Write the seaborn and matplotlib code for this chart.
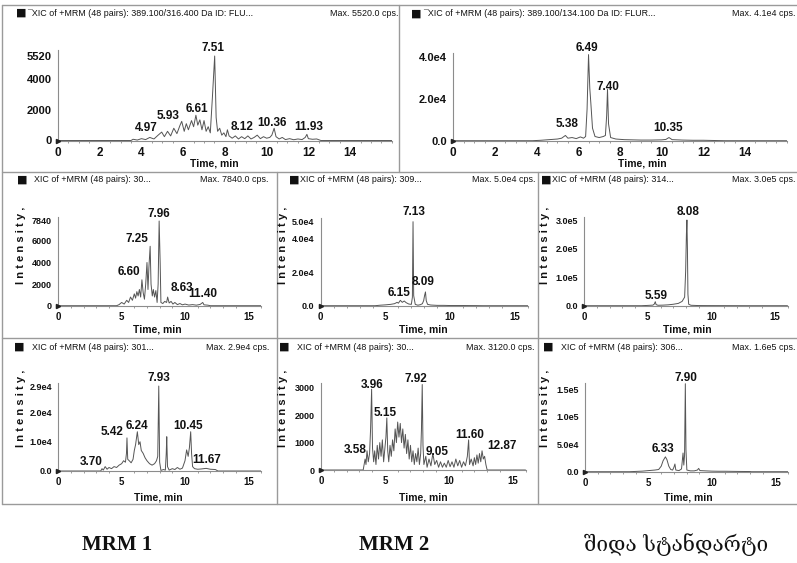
import matplotlib
matplotlib.use("Agg")
import matplotlib.pyplot as plt
from matplotlib.lines import Line2D
import pandas as pd
import seaborn as sns

# ---------------- data ----------------
# panel A : MRM1 top (389.100/316.400)
a_time = [0, 3.5, 3.6, 3.8, 4.0, 4.2, 4.4, 4.6, 4.8, 4.97, 5.1, 5.25, 5.4, 5.55, 5.7, 5.85, 5.93,
          6.05, 6.15, 6.25, 6.4, 6.5, 6.61, 6.7, 6.8, 6.9, 7.0, 7.1, 7.2, 7.3, 7.4, 7.51, 7.58,
          7.65, 7.75, 7.85, 7.95, 8.05, 8.12, 8.2, 8.35, 8.5, 8.65, 8.8, 8.95, 9.1, 9.25, 9.4,
          9.55, 9.7, 9.85, 10.0, 10.15, 10.25, 10.36, 10.45, 10.6, 10.75, 10.9, 11.1, 11.3,
          11.5, 11.7, 11.85, 11.93, 12.0, 12.2, 12.4, 12.6, 16]
a_int = [0, 0, 80, 30, 120, 60, 200, 100, 350, 550, 250, 600, 300, 800, 450, 1000, 1250,
         600, 1100, 700, 1300, 900, 1650, 1000, 1350, 700, 1300, 600, 900, 500, 2800, 5520, 1500,
         600, 800, 350, 500, 250, 700, 300, 150, 300, 100, 250, 120, 300, 100, 200,
         350, 120, 250, 150, 200, 350, 800, 250, 100, 200, 60, 120, 50,
         100, 60, 200, 400, 120, 80, 100, 0, 0]
a_peaks = ["7.51", "4.97", "5.93", "6.61", "8.12", "10.36", "11.93"]
a_yticks = [0, 2000, 4000, 5520]
a_yticklabels = ["0", "2000", "4000", "5520"]

# panel B : MRM2 top (389.100/134.100)
b_time = [0, 3.8, 4.2, 4.6, 5.0, 5.2, 5.38, 5.5, 5.7, 5.9, 6.1, 6.25, 6.35, 6.42, 6.49, 6.55,
          6.6, 6.68, 6.8, 7.0, 7.2, 7.3, 7.36, 7.40, 7.45, 7.55, 7.8, 8.2, 8.6, 9.0, 9.5, 10.0,
          10.2, 10.35, 10.5, 11.0, 11.5, 12.0, 12.5, 13, 16]
b_int = [0, 0, 200, 500, 800, 1200, 2500, 1200, 1500, 1000, 1800, 1200, 2000, 15000, 41000, 25000,
         18000, 6000, 2000, 1500, 2000, 2500, 12000, 24500, 8000, 1500, 800, 500, 400, 300, 300, 400,
         600, 1500, 500, 300, 200, 200, 100, 0, 0]
b_peaks = ["6.49", "7.40", "5.38", "10.35"]
b_yticks = [0, 20000, 40000]
b_yticklabels = ["0.0", "2.0e4", "4.0e4"]

# panel C : MRM1 sample 2
c_time = [0, 4.6, 4.8, 5.0, 5.2, 5.4, 5.55, 5.7, 5.85, 6.0, 6.1, 6.2, 6.3, 6.4, 6.5, 6.6, 6.7,
          6.8, 6.9, 7.0, 7.08, 7.15, 7.25, 7.32, 7.42, 7.5, 7.6, 7.7, 7.8, 7.88, 7.96, 8.04, 8.1,
          8.25, 8.4, 8.55, 8.63, 8.75, 8.9, 9.05, 9.2, 9.4, 9.6, 9.8, 10.0, 10.3, 10.6, 10.9,
          11.2, 11.4, 11.5, 11.8, 12.0, 16]
c_int = [0, 0, 100, 300, 150, 500, 300, 800, 500, 1100, 700, 1300, 900, 1500, 800, 2400, 1200,
         600, 2000, 4000, 1500, 3500, 5500, 2000, 900, 1500, 800, 1400, 300, 2000, 7840, 4000, 300,
         200, 400, 300, 800, 250, 400, 150, 300, 100, 200, 80, 150, 60, 100, 50,
         120, 300, 80, 50, 0, 0]
c_peaks = ["7.96", "7.25", "6.60", "8.63", "11.40"]
c_yticks = [0, 2000, 4000, 6000, 7840]
c_yticklabels = ["0", "2000", "4000", "6000", "7840"]

# panel D : MRM2 sample 2
d_time = [0, 4.2, 4.6, 5.0, 5.4, 5.7, 5.9, 6.0, 6.15, 6.3, 6.45, 6.6, 6.8, 7.0, 7.08, 7.13,
          7.18, 7.3, 7.5, 7.7, 7.85, 7.95, 8.02, 8.09, 8.15, 8.25, 8.5, 9.0, 9.5, 10, 11, 12,
          12.5, 16]
d_int = [0, 0, 300, 500, 800, 1200, 2000, 1500, 3200, 2000, 2800, 1800, 1000, 800, 5000, 50000,
         6000, 800, 300, 600, 1200, 3000, 6000, 8200, 3000, 800, 400, 200, 200, 100, 100, 50,
         0, 0]
d_peaks = ["7.13", "6.15", "8.09"]
d_yticks = [0, 20000, 40000, 50000]
d_yticklabels = ["0.0", "2.0e4", "4.0e4", "5.0e4"]

# panel E : internal standard sample 2
e_time = [0, 4.5, 5.0, 5.4, 5.5, 5.59, 5.65, 5.8, 6.2, 6.6, 7.0, 7.4, 7.7, 7.9, 7.98, 8.04,
          8.08, 8.12, 8.16, 8.22, 8.4, 9, 10, 11, 12, 13, 16]
e_int = [0, 0, 1000, 2000, 5000, 14000, 4000, 1500, 2000, 3000, 5000, 8000, 15000, 30000, 120000,
         250000, 300000, 200000, 40000, 5000, 1500, 500, 300, 200, 100, 0, 0]
e_peaks = ["8.08", "5.59"]
e_yticks = [0, 100000, 200000, 300000]
e_yticklabels = ["0.0", "1.0e5", "2.0e5", "3.0e5"]

# panel F : MRM1 sample 3
f_time = [0, 3.35, 3.45, 3.55, 3.7, 3.85, 4.0, 4.2, 4.4, 4.6, 4.8, 5.0, 5.15, 5.3, 5.38, 5.42,
          5.48, 5.6, 5.75, 5.9, 6.0, 6.1, 6.24, 6.35, 6.45, 6.55, 6.7, 6.85, 7.0, 7.2, 7.4, 7.6,
          7.75, 7.85, 7.93, 8.0, 8.1, 8.3, 8.45, 8.52, 8.56, 8.62, 8.75, 9.0, 9.2, 9.4, 9.6,
          9.8, 10.0, 10.13, 10.25, 10.35, 10.45, 10.52, 10.6, 10.75, 11.0, 11.3, 11.67, 12.0,
          12.4, 12.6, 16]
f_int = [0, 0, 800, 300, 1500, 600, 1200, 800, 1500, 1200, 2000, 2500, 3500, 3000, 6000, 11300,
         4000, 3500, 2800, 4000, 7000, 9000, 13400, 9000, 10000, 7000, 6000, 4500, 3500, 2500, 2000, 2500,
         3500, 5000, 29000, 3000, 200, 500, 300, 6000, 11700, 1500, 300, 800, 500, 1200, 600,
         1000, 3500, 7200, 5000, 8000, 13400, 6000, 1500, 800, 600, 700, 900, 600,
         500, 0, 0]
f_peaks = ["7.93", "5.42", "6.24", "10.45", "3.70", "11.67"]
f_yticks = [0, 10000, 20000, 29000]
f_yticklabels = ["0.0", "1.0e4", "2.0e4", "2.9e4"]

# panel G : MRM2 sample 3
g_time = [0, 3.3, 3.45, 3.52, 3.6, 3.7, 3.8, 3.88, 3.96, 4.03, 4.12, 4.2, 4.3, 4.4, 4.5, 4.6,
          4.7, 4.8, 4.9, 5.0, 5.08, 5.15, 5.22, 5.3, 5.4, 5.5, 5.6, 5.7, 5.8, 5.9, 6.0, 6.1,
          6.2, 6.3, 6.4, 6.5, 6.6, 6.7, 6.8, 6.9, 7.0, 7.1, 7.2, 7.3, 7.4, 7.5, 7.6, 7.7, 7.8,
          7.86, 7.92, 7.98, 8.05, 8.2, 8.3, 8.45, 8.6, 8.75, 8.9, 9.05, 9.2, 9.35, 9.5, 9.65,
          9.8, 9.95, 10.1, 10.25, 10.4, 10.55, 10.7, 10.85, 11.0, 11.15, 11.3, 11.45, 11.55,
          11.62, 11.75, 11.9, 12.0, 12.1, 12.2, 12.3, 12.4, 12.5, 12.6, 12.7, 12.8, 12.9, 13.0, 16]
g_int = [0, 0, 400, 200, 700, 300, 600, 1500, 2950, 800, 300, 700, 200, 900, 400, 1000,
         500, 1100, 300, 800, 1200, 1900, 700, 300, 900, 500, 1100, 700, 1500, 1000, 1750, 1200,
         1700, 1000, 1500, 800, 1300, 600, 1100, 400, 900, 300, 700, 200, 600, 300, 800, 200, 600,
         1500, 3120, 900, 200, 500, 100, 400, 150, 600, 200, 350, 100, 300, 100, 250,
         100, 350, 120, 300, 100, 400, 150, 350, 100, 300, 150, 500, 1100,
         200, 400, 150, 450, 200, 550, 250, 600, 300, 700, 400, 500, 200, 0, 0]
g_peaks = ["3.96", "7.92", "5.15", "3.58", "9.05", "11.60", "12.87"]
g_yticks = [0, 1000, 2000, 3000]
g_yticklabels = ["0", "1000", "2000", "3000"]

# panel H : internal standard sample 3
h_time = [0, 3.5, 4.0, 4.5, 5.0, 5.5, 5.8, 6.0, 6.15, 6.33, 6.45, 6.6, 6.75, 6.9, 7.0, 7.08,
          7.15, 7.4, 7.6, 7.72, 7.78, 7.84, 7.90, 7.95, 8.02, 8.3, 8.6, 8.85, 8.95, 9.05, 9.5,
          10, 10.5, 11, 12, 13, 13.1, 16]
h_int = [0, 0, 500, 1000, 2000, 3000, 4000, 10000, 20000, 27000, 22000, 10000, 4000, 3000, 8000, 14000,
         3000, 2000, 5000, 34000, 12000, 30000, 160000, 40000, 3000, 1500, 1500, 3000, 6000, 2000, 1500,
         1000, 800, 800, 500, 300, 0, 0]
h_peaks = ["7.90", "6.33"]
h_yticks = [0, 50000, 100000, 150000]
h_yticklabels = ["0.0", "5.0e4", "1.0e5", "1.5e5"]

headers = {
    "a": ("\u00afXIC of +MRM (48 pairs): 389.100/316.400 Da ID: FLU...", "Max. 5520.0 cps."),
    "b": ("\u00afXIC of +MRM (48 pairs): 389.100/134.100 Da ID: FLUR...", "Max. 4.1e4 cps."),
    "c": ("XIC of +MRM (48 pairs): 30...", "Max. 7840.0 cps."),
    "d": ("XIC of +MRM (48 pairs): 309...", "Max. 5.0e4 cps."),
    "e": ("XIC of +MRM (48 pairs): 314...", "Max. 3.0e5 cps."),
    "f": ("XIC of +MRM (48 pairs): 301...", "Max. 2.9e4 cps."),
    "g": ("XIC of +MRM (48 pairs): 30...", "Max. 3120.0 cps."),
    "h": ("XIC of +MRM (48 pairs): 306...", "Max. 1.6e5 cps."),
}
column_titles = ["MRM 1", "MRM 2", "შიდა სტანდარტი"]

# ---------------- layout ----------------
W, H = 797, 563
NARROW = ["Liberation Sans Narrow", "Liberation Sans", "DejaVu Sans"]
TXT = "#111111"
GREY = "#8c8c8c"
LINE = "#555555"

# x0px, x1px, ytop_px, ybot_px, xmax, ymax, xticks, big-row?
layout = {
    "a": (58, 391.8, 50, 140.5, 16, 5912, [0, 2, 4, 6, 8, 10, 12, 14], True),
    "b": (453.3, 786.7, 53, 140.7, 16, 41762, [0, 2, 4, 6, 8, 10, 12, 14], True),
    "c": (58.3, 261, 216.7, 305.7, 16, 8238, [0, 5, 10, 15], False),
    "d": (320.7, 527.9, 218, 305.7, 16, 52202, [0, 5, 10, 15], False),
    "e": (584.3, 787.5, 216.7, 305.7, 16, 311552, [0, 5, 10, 15], False),
    "f": (58.3, 261, 383.3, 471, 16, 29932, [0, 5, 10, 15], False),
    "g": (321, 525.5, 383, 470, 16, 3175, [0, 5, 10, 15], False),
    "h": (585, 788.2, 383, 471.7, 16, 161300, [0, 5, 10, 15], False),
}
# peak label anchor positions (data coords), same order as the peak lists
label_pos = {
    "a": [(7.43, 6043), (4.25, 797), (5.29, 1600), (6.65, 2038), (8.8, 900), (10.24, 1163), (12.0, 900)],
    "b": [(6.40, 44000), (7.41, 25400), (5.44, 7950), (10.29, 5900)],
    "c": [(7.97, 8460), (6.24, 6170), (5.6, 3090), (9.74, 1670), (11.4, 1050)],
    "d": [(7.23, 56000), (6.05, 7740), (7.92, 13900)],
    "e": [(8.19, 329000), (5.65, 35000)],
    "f": [(7.95, 31600), (4.21, 13400), (6.24, 15500), (10.26, 15500), (2.63, 3200), (11.71, 3750)],
    "g": [(3.96, 3100), (7.41, 3320), (5.0, 2070), (2.66, 730), (9.05, 670), (11.6, 1280), (14.14, 890)],
    "h": [(7.95, 169800), (6.17, 41300)],
}
# header: square x, text x, y, right edge for "Max"
header_pos = {
    "a": (21, 27, 13, 398), "b": (416, 423, 14, 795),
    "c": (22, 34, 180, 269), "d": (294, 300, 180, 535), "e": (546, 552, 180, 795),
    "f": (19, 32, 347, 269), "g": (284, 297, 347, 535), "h": (548, 561, 347, 795),
}
time_label_pos = {
    "a": (214, 164), "b": (642, 164), "c": (157, 329), "d": (423, 329), "e": (687, 329),
    "f": (158, 497), "g": (423, 497), "h": (688, 497),
}

traces = {
    "a": (a_time, a_int, a_peaks, a_yticks, a_yticklabels),
    "b": (b_time, b_int, b_peaks, b_yticks, b_yticklabels),
    "c": (c_time, c_int, c_peaks, c_yticks, c_yticklabels),
    "d": (d_time, d_int, d_peaks, d_yticks, d_yticklabels),
    "e": (e_time, e_int, e_peaks, e_yticks, e_yticklabels),
    "f": (f_time, f_int, f_peaks, f_yticks, f_yticklabels),
    "g": (g_time, g_int, g_peaks, g_yticks, g_yticklabels),
    "h": (h_time, h_int, h_peaks, h_yticks, h_yticklabels),
}

sns.set_theme(style="white")
plt.rcParams["font.family"] = NARROW

fig = plt.figure(figsize=(W / 100, H / 100), dpi=100)
fig.patch.set_facecolor("white")


def fx(px):
    return px / W


def fy(py):
    return 1 - py / H


for key, (t, inten, peaks, yt, ytl) in traces.items():
    x0, x1, ytop, ybot, xmax, ymax, xt, big = layout[key]
    ax = fig.add_axes([fx(x0), fy(ybot), (x1 - x0) / W, (ybot - ytop) / H])
    df = pd.DataFrame({"time": t, "intensity": inten})
    sns.lineplot(data=df, x="time", y="intensity", ax=ax, color=LINE, lw=0.7,
                 estimator=None, sort=False)
    ax.set_xlim(0, xmax)
    ax.set_ylim(0, ymax)
    ax.set_facecolor("none")
    for s in ["top", "right"]:
        ax.spines[s].set_visible(False)
    for s in ["left", "bottom"]:
        ax.spines[s].set_color(GREY)
        ax.spines[s].set_linewidth(0.8)
    ax.set_xlabel("")
    ax.set_ylabel("")
    ytick_fs = 8.0 if big else 6.5
    xtick_fs = 8.5 if big else 7.0
    ax.set_xticks(xt)
    ax.set_xticklabels([str(v) for v in xt])
    ax.set_xticks([v for v in range(0, int(xmax) + 1)] if not big else
                  [v * 0.5 for v in range(0, int(xmax * 2) + 1)], minor=True)
    ax.set_yticks(yt)
    ax.set_yticklabels(ytl)
    ax.tick_params(axis="both", which="major", length=3, width=0.7, color=GREY,
                   pad=1.5, labelcolor=TXT)
    ax.tick_params(axis="x", which="major", labelsize=xtick_fs)
    ax.tick_params(axis="y", which="major", labelsize=ytick_fs)
    ax.tick_params(axis="x", which="minor", length=1.5, width=0.6, color=GREY, bottom=True)
    for lab in ax.get_xticklabels() + ax.get_yticklabels():
        lab.set_fontweight("bold")
    ax.plot([0], [0], marker=">", ms=3, color="#222222", clip_on=False, zorder=5)
    for txt, (lx, ly) in zip(peaks, label_pos[key]):
        ax.text(lx, ly, txt, ha="center", va="center", fontsize=8.5, fontweight="bold",
                color=TXT, clip_on=False)

    # header
    sqx, tx, hy, rx = header_pos[key]
    left_txt, right_txt = headers[key]
    fig.text(fx(sqx), fy(hy), "\u25a0", ha="center", va="center", fontsize=8,
             color="#111111", family=["DejaVu Sans"])
    fig.text(fx(tx), fy(hy), left_txt, ha="left", va="center", fontsize=6.4,
             color=TXT)
    fig.text(fx(rx), fy(hy), right_txt, ha="right", va="center", fontsize=6.4,
             color=TXT)
    lx, ly = time_label_pos[key]
    fig.text(fx(lx), fy(ly), "Time, min", ha="center", va="center", fontsize=7.5,
             fontweight="bold", color=TXT)

# vertical "Intensity" labels for lower rows
for ycen in (245, 408):
    for xc in (21, 283, 545):
        fig.text(fx(xc), fy(ycen), "I n t e n s i t y ,", rotation=90, ha="center",
                 va="center", fontsize=8, fontweight="bold", color=TXT)

# panel separators
sep_kw = dict(color="#9a9a9a", lw=1.0)
fig.add_artist(Line2D([fx(2), fx(797)], [fy(5), fy(5)], **sep_kw))
for yy in (172, 338, 504):
    fig.add_artist(Line2D([fx(2), fx(797)], [fy(yy), fy(yy)], **sep_kw))
fig.add_artist(Line2D([fx(2), fx(2)], [fy(5), fy(504)], **sep_kw))
fig.add_artist(Line2D([fx(399), fx(399)], [fy(5), fy(172)], **sep_kw))
for xx in (277, 538):
    fig.add_artist(Line2D([fx(xx), fx(xx)], [fy(172), fy(504)], **sep_kw))

# column titles
fig.text(fx(117), fy(545), column_titles[0], ha="center", va="center", fontsize=15,
         fontweight="bold", family=["Liberation Serif", "DejaVu Serif"], color="#111111")
fig.text(fx(394), fy(545), column_titles[1], ha="center", va="center", fontsize=15,
         fontweight="bold", family=["Liberation Serif", "DejaVu Serif"], color="#111111")
fig.text(fx(676), fy(545), column_titles[2], ha="center", va="center", fontsize=15,
         family=["DejaVu Serif", "DejaVu Sans"], color="#111111")

fig.savefig("out.png", dpi=100, facecolor="white")
